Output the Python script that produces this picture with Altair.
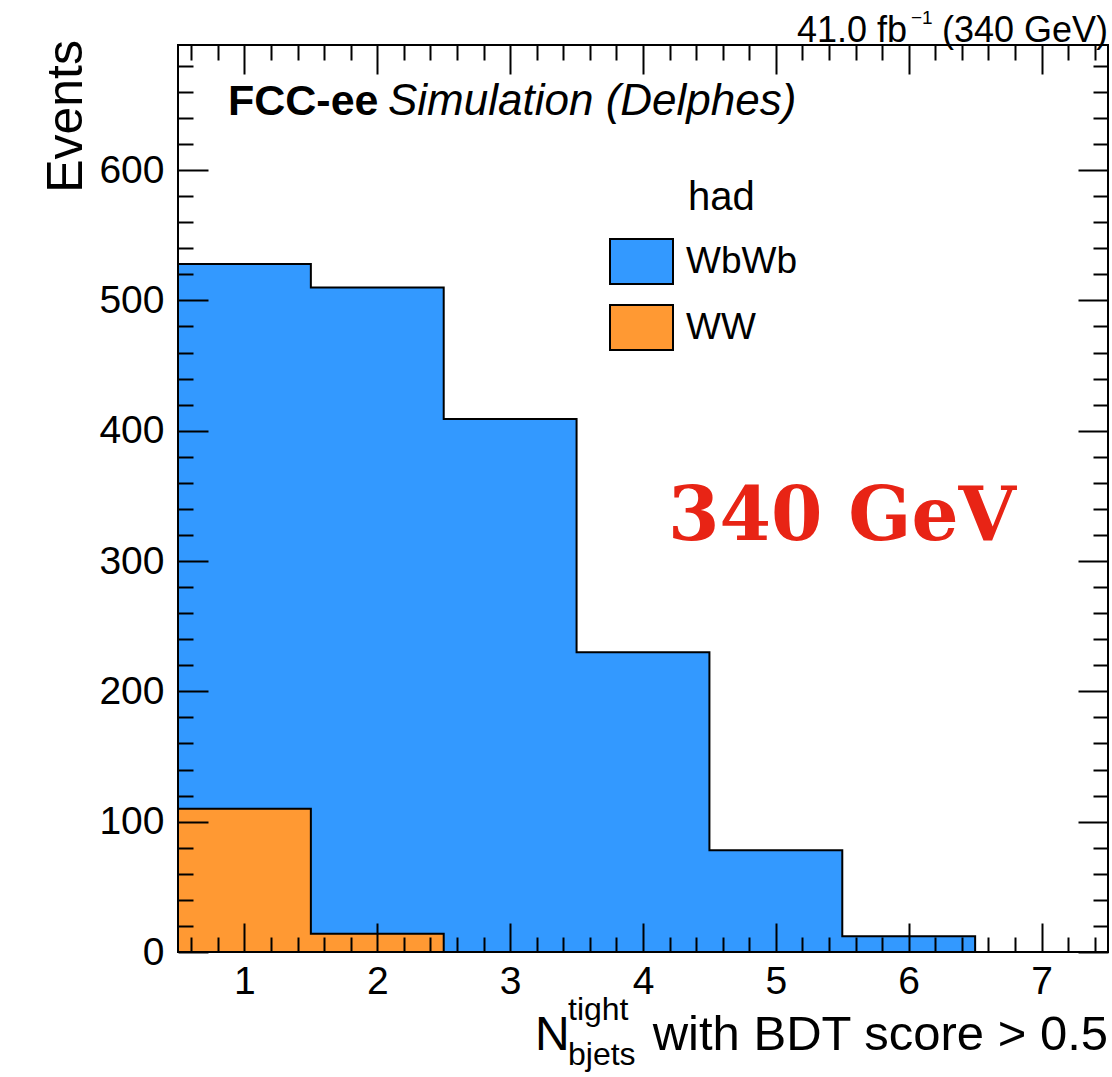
import altair as alt
import numpy as np
import pandas as pd

FONT = "Liberation Sans"
BLUE = "#3399FF"
ORANGE = "#FF9933"

# ---- data ----
bin_centers = [1, 2, 3, 4, 5, 6, 7]
wbwb = [418, 496, 409, 230, 78, 12, 0]   # WbWb contribution (stacked on top)
ww = [110, 14, 0, 0, 0, 0, 0]            # WW contribution (bottom)
processes = ["WbWb", "WW"]
x_major = [1, 2, 3, 4, 5, 6, 7]
y_major = [0, 100, 200, 300, 400, 500, 600]
x_minor = [round(v, 1) for v in np.arange(0.6, 7.5, 0.2) if abs(v - round(v)) > 1e-6]
y_minor = [v for v in range(20, 700, 20) if v % 100 != 0]

edges = [c - 0.5 for c in bin_centers] + [bin_centers[-1] + 0.5]
ww_e = ww + [ww[-1]]
wb_e = wbwb + [wbwb[-1]]
tot_e = [a + b for a, b in zip(ww_e, wb_e)]

rows = []
for e, a, t in zip(edges, ww_e, tot_e):
    rows.append(dict(x=e, lo=0, hi=a, proc="WW"))
    rows.append(dict(x=e, lo=a, hi=t, proc="WbWb"))
df = pd.DataFrame(rows)

xscale = alt.Scale(domain=[0.5, 7.5], nice=False, zero=False)
yscale = alt.Scale(domain=[0, 696], nice=False, zero=True)

area = alt.Chart(df).mark_area(interpolate="step-after", opacity=1).encode(
    x=alt.X("x:Q", scale=xscale,
            axis=alt.Axis(orient="bottom", values=x_major, ticks=False, tickSize=0,
                          domain=False, grid=False, labelFont=FONT, labelFontSize=39,
                          labelColor="black", labelPadding=10, format="d", title=None)),
    y=alt.Y("lo:Q", scale=yscale,
            axis=alt.Axis(orient="left", values=y_major, ticks=False, tickSize=0,
                          domain=False, grid=False, labelFont=FONT, labelFontSize=39,
                          labelColor="black", labelPadding=14, format="d", title=None)),
    y2="hi:Q",
    color=alt.Color("proc:N", scale=alt.Scale(domain=processes, range=[BLUE, ORANGE]),
                    legend=alt.Legend(title=None, orient="none", legendX=431, legendY=184,
                                      symbolType="M-1,-0.714H1V0.714H-1Z", symbolSize=3969,
                                      symbolStrokeColor="black", symbolStrokeWidth=2,
                                      symbolOpacity=1, labelFont=FONT, labelFontSize=37,
                                      labelColor="black", labelOffset=12, rowPadding=7,
                                      padding=0, offset=0)),
    order=alt.Order("proc:N"),
)

lines = alt.Chart(df).mark_line(interpolate="step-after", color="black", strokeWidth=2).encode(
    x=alt.X("x:Q", scale=xscale, axis=None),
    y=alt.Y("hi:Q", scale=yscale, axis=None),
    detail="proc:N",
)


def tick_layer(xvals, yvals, xlen, ylen, xorient, yorient):
    return alt.Chart(df).mark_point(opacity=0).encode(
        x=alt.X("x:Q", scale=xscale,
                axis=alt.Axis(orient=xorient, values=xvals, ticks=True, tickSize=xlen,
                              tickWidth=2, tickColor="black", labels=False, domain=False,
                              grid=False, offset=-xlen, zindex=2, title=None)),
        y=alt.Y("hi:Q", scale=yscale,
                axis=alt.Axis(orient=yorient, values=yvals, ticks=True, tickSize=ylen,
                              tickWidth=2, tickColor="black", labels=False, domain=False,
                              grid=False, offset=-ylen, zindex=2, title=None)),
    )


t1 = tick_layer(x_major, y_major, 29, 30, "bottom", "left")
t2 = tick_layer(x_minor, y_minor, 15, 15, "bottom", "left")
t3 = tick_layer(x_major, y_major, 29, 30, "top", "right")
t4 = tick_layer(x_minor, y_minor, 15, 15, "top", "right")

frame = alt.Chart(pd.DataFrame({"a": [0]})).mark_rect(
    fillOpacity=0, stroke="black", strokeWidth=2
).encode(x=alt.value(0), x2=alt.value("width"), y=alt.value(0), y2=alt.value("height"))


def txt(text, x, y, size, font=FONT, **kw):
    return alt.Chart(pd.DataFrame({"t": [text]})).mark_text(
        font=font, fontSize=size, **kw
    ).encode(x=alt.value(x), y=alt.value(y), text="t:N")


texts = [
    txt("FCC-ee", 50, 70, 43, fontWeight="bold", align="left", baseline="alphabetic", color="black"),
    txt("Simulation (Delphes)", 210, 70, 44, fontStyle="italic", align="left", baseline="alphabetic", color="black"),
    txt("(340 GeV)", 930, -3, 36, align="right", baseline="alphabetic", color="black"),
    txt("\u22121", 733, -21, 19, align="left", baseline="alphabetic", color="black"),
    txt("41.0 fb", 729, -3, 36, align="right", baseline="alphabetic", color="black"),
    txt("had", 510, 165, 40, align="left", baseline="alphabetic", color="black"),
    txt("340 GeV", 490, 495, 74, font="DejaVu Serif", fontWeight="bold", align="left",
        baseline="alphabetic", color="#E82415"),
    txt("Events", -96, -5, 50, align="right", baseline="alphabetic", angle=270, color="black"),
    txt("with BDT score > 0.5", 930, 1005, 49, align="right", baseline="alphabetic", color="black"),
    txt("N", 357, 1005, 48, align="left", baseline="alphabetic", color="black"),
    txt("tight", 390, 975, 32, align="left", baseline="alphabetic", color="black"),
    txt("bjets", 390, 1020, 32, align="left", baseline="alphabetic", color="black"),
]

chart = alt.layer(area, lines, t1, t2, t3, t4, frame, *texts).resolve_axis(
    x="independent", y="independent"
).properties(
    width=930, height=907,
    autosize=alt.AutoSizeParams(type="none"),
    padding={"left": 178, "top": 45, "right": 4, "bottom": 125},
    background="white",
).configure_view(stroke="transparent")

chart.save("out.html", embed_options={"renderer": "svg", "actions": False})
